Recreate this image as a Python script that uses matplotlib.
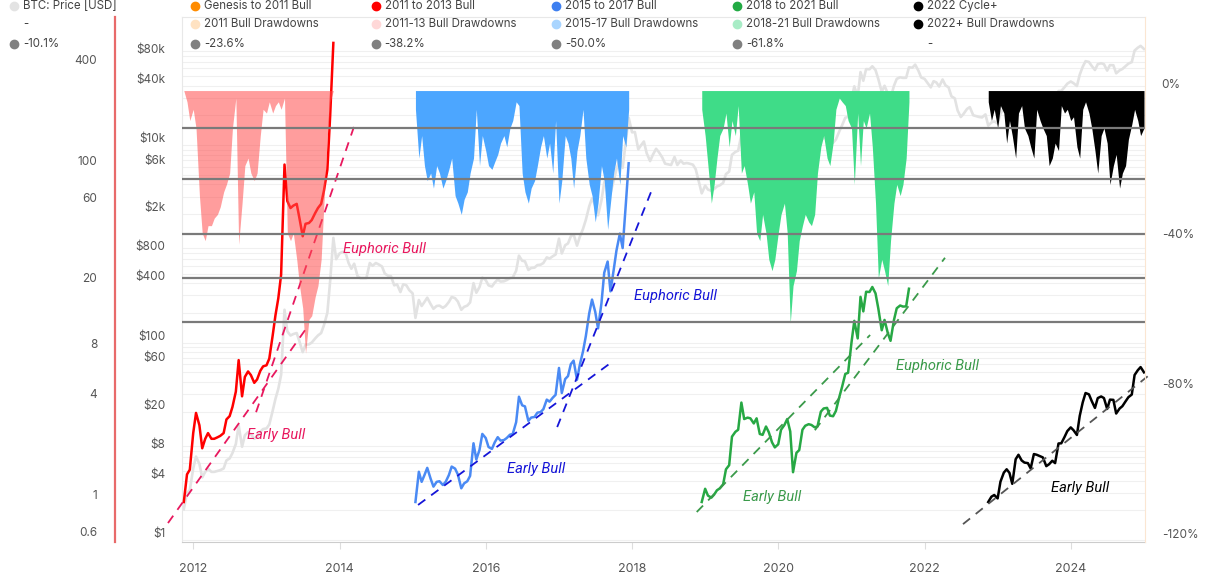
import numpy as np
import pandas as pd
import matplotlib
matplotlib.use('Agg')
import matplotlib.pyplot as plt
import matplotlib.dates as mdates
from matplotlib.ticker import LogLocator, NullFormatter, NullLocator
from matplotlib.lines import Line2D

plt.rcParams['font.family'] = ['Inter', 'DejaVu Sans']

# BTC price [USD], read on the 1st and 15th of each month
p2011 = [2.05, 3.0, 3.2]
p2012 = [5.3, 7.0, 5.9, 4.3, 4.9, 5.3, 4.9, 4.9, 5.0, 5.1, 5.3, 6.4,
         6.7, 7.6, 9.4, 14.5, 8.8, 11.5, 12.4, 11.8, 10.6, 11.1, 12.5, 13.3]
p2013 = [13.5, 14.8, 20.4, 27, 34, 47, 215, 130, 118, 122, 125, 102,
         80, 95, 96, 100, 110, 118, 125, 150, 200, 420, 1150, 700]
p2014 = [800, 830, 800, 640, 560, 630, 470, 450, 450, 450, 640, 600,
         640, 620, 590, 500, 475, 470, 380, 390, 325, 390, 380, 340]
p2015 = [315, 178, 270, 235, 258, 285, 245, 220, 235, 237, 225, 235,
         258, 290, 282, 260, 215, 230, 237, 255, 400, 320, 365, 455]
p2016 = [430, 380, 370, 405, 435, 415, 418, 430, 450, 455, 535, 760,
         675, 665, 545, 570, 575, 610, 615, 640, 730, 710, 750, 780]
p2017 = [1130, 800, 970, 1010, 1190, 1250, 960, 1180, 1420, 1750, 2400, 2900,
         2450, 1950, 2750, 4200, 4900, 3250, 4350, 5700, 7200, 5900, 10900, 19000]
p2018 = [13500, 13600, 9100, 10000, 10900, 8300, 6900, 8000, 9200, 8500, 7500, 6500,
         6400, 6300, 7600, 6300, 7000, 6500, 6600, 6500, 6350, 5700, 4200, 3250]
p2019 = [3900, 3550, 3450, 3600, 3820, 3920, 4150, 5100, 5400, 8000, 8550, 8800,
         12800, 10200, 10400, 10300, 9600, 10300, 8300, 8200, 9200, 8500, 7400, 6900]
p2020 = [7200, 8800, 9400, 10200, 8600, 4900, 6400, 6650, 8800, 9300, 9500, 9400,
         9100, 9200, 11300, 11800, 11900, 10700, 10600, 11400, 13800, 15900, 19000, 19300]
p2021 = [29300, 39500, 31000, 55000, 45000, 59000, 58800, 63000, 57700, 46800, 34700, 40000,
         33500, 30000, 39900, 47000, 48800, 48100, 48200, 61500, 61000, 65500, 57000, 48500]
p2022 = [47000, 43000, 38500, 44500, 43200, 39300, 46300, 40500, 38500, 31300, 29800, 22500,
         19300, 20800, 23300, 24300, 20100, 19700, 19300, 19100, 20500, 15800, 17000, 17400]
p2023 = [16600, 20900, 23700, 24800, 23600, 20300, 28500, 30300, 28000, 27200, 27000, 25100,
         30600, 30300, 29700, 29200, 25900, 26600, 27900, 27000, 35400, 35500, 38700, 42000]
p2024 = [44200, 42500, 39800, 51800, 62400, 71000, 69700, 63500, 57800, 66200, 67700, 66200,
         57000, 64800, 64600, 53500, 57300, 59200, 63300, 67000, 69500, 91000, 97200, 101500]
p2025 = [94400]

price = np.array(p2011 + p2012 + p2013 + p2014 + p2015 + p2016 + p2017 + p2018
                 + p2019 + p2020 + p2021 + p2022 + p2023 + p2024 + p2025, dtype=float)
dates = pd.date_range('2011-11-15', periods=len(price), freq='SMS')

# deepest drawdown [%] within each half month, per bull cycle
dd_2011_13 = [0, -3, -8, -5, -10, -28, -38, -40, -36, -36, -34, -33, -31, -27, -25, -22,
              -10, -2, -41, -30, -20, -18, -22, -24, -22, -12, -5, -6, -3, -6, -4, -3,
              -5, -2, -38, -40, -38, -45, -52, -58, -70, -61, -60, -55, -52, -45, -30, -12,
              -3, 0]
dd_2015_17 = [-5, -18, -12, -20, -24, -22, -26, -20, -22, -26, -24, -21, -18, -28, -30, -33,
              -29, -27, -22, -18, -5, -20, -12, -16, -20, -21, -19, -17, -14, -12, -15, -10,
              -8, -3, -4, -22, -27, -30, -26, -24, -20, -15, -12, -18, -14, -22, -8, -30,
              -24, -12, -14, -18, -26, -16, -12, -5, -18, -25, -28, -35, -30, -20, -24, -37,
              -30, -22, -18, -25, -12, -15, -5]
dd_2018_21 = [-5, -12, -20, -30, -25, -18, -12, -10, -6, -15, -8, -12, -4, -22, -20, -25,
              -30, -27, -38, -40, -33, -38, -45, -48, -45, -38, -33, -30, -38, -62, -52, -48,
              -40, -36, -33, -35, -36, -33, -22, -15, -12, -18, -20, -14, -5, -2, -3, -4,
              -8, -10, -25, -6, -20, -8, -10, -6, -15, -30, -50, -45, -48, -52, -40, -30,
              -25, -28, -25, -18, -3]
dd_2022 = [-3, -8, -5, -10, -4, -6, -14, -8, -12, -18, -6, -4, -10, -12, -15, -18,
           -5, -8, -10, -12, -20, -18, -14, -16, -4, -6, -5, -8, -7, -15, -18, -5,
           -3, -6, -10, -16, -22, -12, -10, -14, -25, -20, -17, -26, -22, -20, -13, -9,
           -5, -8, -12, -10]
dd_series = [dd_2011_13, dd_2015_17, dd_2018_21, dd_2022]

# bull cycles
cycle_start = ['2011-11-15', '2015-01-15', '2018-12-15', '2022-11-15']
cycle_end = ['2013-12-01', '2017-12-15', '2021-10-15', '2025-01-01']
line_colors = ['#ff0000', '#4a8af4', '#27a844', '#000000']
fill_colors = ['#ff4d4d', '#4ca6ff', '#3fdc88', '#000000']
fill_alpha = [0.55, 1.0, 1.0, 1.0]

# fib drawdown levels [%]
levels = [-10.1, -23.6, -38.2, -50.0, -61.8]

# trend lines (date, ROI multiple)
trend_d0 = ['2011-08-28', '2012-11-10', '2015-01-28', '2016-12-23', '2018-11-20', '2020-07-02', '2022-07-12']
trend_d1 = ['2013-07-13', '2014-03-15', '2017-09-23', '2018-04-10', '2021-04-04', '2022-04-13', '2025-02-15']
trend_r0 = [0.748, 3.45, 0.96, 2.81, 0.871, 2.69, 0.737]
trend_r1 = [10.7, 178, 6.9, 74, 10.0, 29.0, 6.0]
trend_colors = ['#e8185e', '#e8185e', '#1515d8', '#1515d8', '#3a9a4a', '#3a9a4a', '#555555']

note_text = ['Early Bull', 'Euphoric Bull', 'Early Bull', 'Euphoric Bull', 'Early Bull', 'Euphoric Bull', 'Early Bull']
note_date = ['2013-02-19', '2014-08-11', '2016-09-09', '2018-08-08', '2019-11-30', '2022-03-08', '2024-02-15']
note_roi = [2.52, 32.7, 1.57, 17.2, 1.07, 6.5, 1.21]
note_colors = ['#e8185e', '#e8185e', '#1515d8', '#1515d8', '#3a9a4a', '#3a9a4a', '#000000']

usd_ticks = [1, 4, 8, 20, 60, 100, 400, 800, 2000, 6000, 10000, 40000, 80000]
usd_labels = ['$1', '$4', '$8', '$20', '$60', '$100', '$400', '$800', '$2k', '$6k', '$10k', '$40k', '$80k']
roi_ticks = [0.6, 1, 4, 8, 20, 60, 100, 400]
dd_ticks = [0, -40, -80, -120]

legend_rows = [
    [('BTC: Price [USD]', '#e3e3e3'), ('Genesis to 2011 Bull', '#ff8c00'), ('2011 to 2013 Bull', '#ff0000'),
     ('2015 to 2017 Bull', '#3d7ff0'), ('2018 to 2021 Bull', '#22aa44'), ('2022 Cycle+', '#000000')],
    [('-', None), ('2011 Bull Drawdowns', '#ffe2c2'), ('2011-13 Bull Drawdowns', '#ffd8d8'),
     ('2015-17 Bull Drawdowns', '#a9d5ff'), ('2018-21 Bull Drawdowns', '#a8ecc6'), ('2022+ Bull Drawdowns', '#000000')],
    [('-10.1%', '#808080'), ('-23.6%', '#808080'), ('-38.2%', '#808080'),
     ('-50.0%', '#808080'), ('-61.8%', '#808080'), ('-', None)],
]

W, H = 1208, 583
fig = plt.figure(figsize=(W / 100, H / 100), dpi=100)
ax = fig.add_axes([182 / W, 41 / H, 963 / W, 525 / H])
ax2 = ax.twinx()
ax3 = ax.twinx()

# price axis
ax.plot(dates, price, color='#e2e2e2', lw=1.9, zorder=2)
ax.set_yscale('log')
ax.set_ylim(0.954, 199000)
ax.set_yticks(usd_ticks, usd_labels)
ax.yaxis.set_minor_locator(LogLocator(base=10, subs=np.arange(2, 10)))
ax.yaxis.set_minor_formatter(NullFormatter())
ax.grid(axis='y', which='both', color='#f0f0f0', lw=0.8)
ax.tick_params(axis='y', which='both', length=0, pad=12, labelsize=8.5, labelcolor='#555555')

# ROI axis
for s, e, lc in zip(cycle_start, cycle_end, line_colors):
    m = (dates >= s) & (dates <= e)
    roi = price[m] / price[m][0]
    ax2.plot(dates[m], roi, color=lc, lw=1.8)

for d0, d1, r0, r1, c in zip(trend_d0, trend_d1, trend_r0, trend_r1, trend_colors):
    ax2.plot(pd.to_datetime([d0, d1]), [r0, r1], color=c, lw=1.3,
             linestyle=(0, (5, 4)), clip_on=False)

for t, d, r, c in zip(note_text, note_date, note_roi, note_colors):
    ax2.text(mdates.date2num(pd.Timestamp(d)), r, t, color=c, fontsize=10.5, style='italic',
             family=['Roboto', 'DejaVu Sans'], ha='center', va='center')

ax2.set_yscale('log')
ax2.set_ylim(0.576, 802)
ax2.yaxis.tick_left()
ax2.set_yticks(roi_ticks, [f'{v:g}' for v in roi_ticks])
ax2.yaxis.set_minor_locator(NullLocator())
ax2.spines['left'].set_visible(True)
ax2.spines['left'].set_position(('outward', 48))
ax2.spines['left'].set_color('#e86a6a')
ax2.spines['left'].set_linewidth(1.6)
for sp in ['right', 'top', 'bottom']:
    ax2.spines[sp].set_visible(False)
ax2.tick_params(axis='y', length=0, pad=13, labelsize=8.5, labelcolor='#555555')

# drawdown axis
for s, dd, fc, a in zip(cycle_start, dd_series, fill_colors, fill_alpha):
    dd_dates = pd.date_range(s, periods=len(dd), freq='SMS')
    ax3.fill_between(dd_dates, dd, 0, color=fc, alpha=a, lw=0)
for v in levels:
    ax3.axhline(v, color='#7a7a7a', lw=1.6)
ax3.set_ylim(-120.3, 19.6)
ax3.set_yticks(dd_ticks, [f'{v}%' for v in dd_ticks])
ax3.tick_params(axis='y', length=0, pad=12, labelsize=8.5, labelcolor='#555555')
for sp in ['left', 'top', 'bottom']:
    ax3.spines[sp].set_visible(False)
ax3.spines['right'].set_color('#fbe6d2')

# labels sit just above their tick
for a_ in (ax, ax2, ax3):
    for lab in a_.get_yticklabels():
        lab.set_verticalalignment('bottom')

# x axis
ax.set_xlim(pd.Timestamp('2011-11-06'), pd.Timestamp('2025-01-06'))
ax.xaxis.set_major_locator(mdates.YearLocator(2))
ax.xaxis.set_major_formatter(mdates.DateFormatter('%Y'))
ax.tick_params(axis='x', length=5, color='#dddddd', pad=10, labelsize=9, labelcolor='#555555')
ax.spines['bottom'].set_color('#cccccc')
ax.spines['left'].set_color('#e8e8e8')
ax.spines['top'].set_color('#e8e8e8')
ax.spines['right'].set_visible(False)

# legend
for r, row in enumerate(legend_rows):
    y = 1 - [6, 24, 44][r] / H
    for c, (label, col) in enumerate(row):
        x = 14 + 180.8 * c
        if col is not None:
            fig.add_artist(Line2D([x / W], [y], marker='o', ms=6, color=col, transform=fig.transFigure))
        fig.text((x + 9) / W, y, label, fontsize=8.3, color='#444444', ha='left', va='center')

fig.savefig('out.png', dpi=100)
